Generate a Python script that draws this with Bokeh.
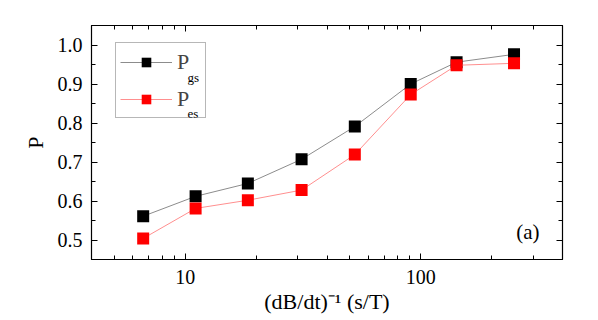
from bokeh.plotting import figure
from bokeh.models import (Range1d, LogAxis, LinearAxis, FixedTicker, SingleIntervalTicker,
                          NumeralTickFormatter, CustomJSTickFormatter, Legend, LegendItem, Label)
from bokeh.embed import file_html
from bokeh.resources import INLINE

# data
rate_inv = [6.63, 11.07, 18.45, 31.2, 52.5, 90.7, 142, 249]
p_gs = [0.561, 0.612, 0.645, 0.707, 0.791, 0.900, 0.956, 0.976]
p_es = [0.504, 0.581, 0.602, 0.628, 0.719, 0.873, 0.948, 0.953]
x_major = [10, 100]
x_minor = [4, 5, 6, 7, 8, 9, 20, 30, 40, 50, 60, 70, 80, 90, 200, 300, 400]
x_label = "(dB/dt)\u207b\u00b9 (s/T)"
y_label = "P"
series_labels = [("P", "gs"), ("P", "es")]
panel_tag = "(a)"

FONT = "Liberation Serif"

p = figure(width=590, height=312, x_axis_type="log",
           x_range=Range1d(4, 400), y_range=Range1d(0.45, 1.05),
           output_backend="svg", toolbar_location=None,
           frame_width=471, frame_height=234,
           min_border_left=91, min_border_top=25, min_border_right=28, min_border_bottom=53)
p.grid.visible = False
p.outline_line_color = "black"
p.background_fill_color = "white"
p.border_fill_color = "white"

def style_axis(ax, labels=True):
    ax.axis_line_color = "black"
    ax.axis_line_width = 1.2
    ax.major_tick_in = 6
    ax.major_tick_out = 0
    ax.minor_tick_in = 4
    ax.minor_tick_out = 0
    ax.major_tick_line_color = "black"
    ax.minor_tick_line_color = "black"
    ax.major_label_text_font = FONT
    ax.major_label_text_color = "black"
    ax.major_label_text_font_size = "20px"
    ax.axis_label_text_font = FONT
    ax.axis_label_text_font_style = "normal"
    ax.axis_label_text_font_size = "22px"
    ax.axis_label_text_color = "black"
    if not labels:
        ax.formatter = CustomJSTickFormatter(code="return ''")
        ax.major_label_text_font_size = "1px"
        ax.major_label_standoff = 0

xt = FixedTicker(ticks=x_major, minor_ticks=x_minor)
yt = SingleIntervalTicker(interval=0.1, num_minor_ticks=2)

xa = p.xaxis[0]
xa.ticker = xt
xa.formatter = NumeralTickFormatter(format="0")
style_axis(xa)
xa.major_label_standoff = 10
xa.axis_label = x_label
xa.axis_label_standoff = 2

ya = p.yaxis[0]
ya.ticker = yt
ya.formatter = NumeralTickFormatter(format="0.0")
style_axis(ya)
ya.major_label_standoff = 9
ya.axis_label = y_label
ya.axis_label_standoff = 7

top = LogAxis(ticker=xt)
style_axis(top, labels=False)
p.add_layout(top, "above")
right = LinearAxis(ticker=yt)
style_axis(right, labels=False)
p.add_layout(right, "right")

l_gs = p.line(rate_inv, p_gs, line_color="#8c8c8c", line_width=1)
s_gs = p.scatter(rate_inv, p_gs, marker="square", size=12, fill_color="black", line_color=None)
l_es = p.line(rate_inv, p_es, line_color="#ff8f8f", line_width=1)
s_es = p.scatter(rate_inv, p_es, marker="square", size=12, fill_color="#ff0000", line_color=None)

legend = Legend(items=[LegendItem(label=series_labels[0][0], renderers=[l_gs, s_gs]),
                       LegendItem(label=series_labels[1][0], renderers=[l_es, s_es])],
                location=(24, 141), margin=0, padding=4, spacing=8,
                glyph_width=52, glyph_height=24, label_height=29, label_width=24,
                label_standoff=5, label_text_font=FONT, label_text_font_size="22px",
                border_line_color="#707070", border_line_width=1.2,
                background_fill_alpha=0)
p.add_layout(legend, "center")

for (_, sub), y in zip(series_labels, (182, 146)):
    p.add_layout(Label(x=96, y=y, x_units="screen", y_units="screen", text=sub,
                       text_font=FONT, text_font_size="13px", text_color="black",
                       text_baseline="alphabetic", text_align="left", level="overlay"))

p.add_layout(Label(x=448, y=28, x_units="screen", y_units="screen", text=panel_tag,
                   text_font=FONT, text_font_size="21px", text_color="black",
                   text_baseline="middle", text_align="right"))

open("out.html", "w").write(file_html(p, INLINE))
